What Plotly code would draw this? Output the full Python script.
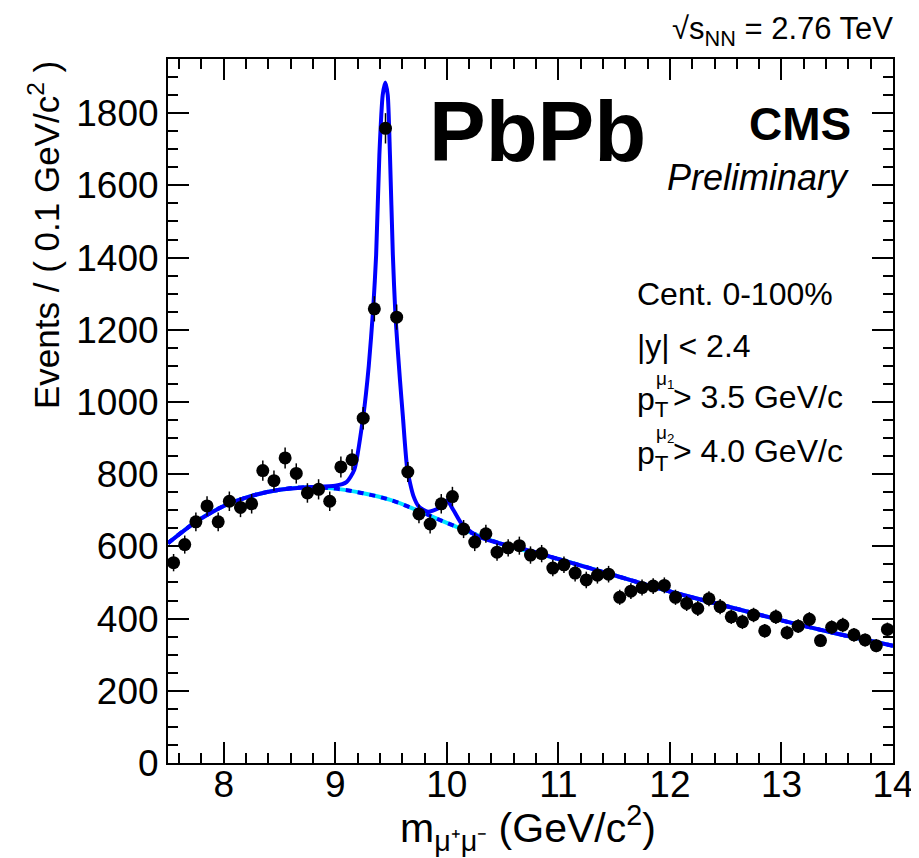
import plotly.graph_objects as go

# dimuon mass bins (0.1 GeV/c^2), PbPb upsilon region
mass = [7.55, 7.65, 7.75, 7.85, 7.95, 8.05, 8.15, 8.25, 8.35, 8.45,
        8.55, 8.65, 8.75, 8.85, 8.95, 9.05, 9.15, 9.25, 9.35, 9.45,
        9.55, 9.65, 9.75, 9.85, 9.95, 10.05, 10.15, 10.25, 10.35, 10.45,
        10.55, 10.65, 10.75, 10.85, 10.95, 11.05, 11.15, 11.25, 11.35, 11.45,
        11.55, 11.65, 11.75, 11.85, 11.95, 12.05, 12.15, 12.25, 12.35, 12.45,
        12.55, 12.65, 12.75, 12.85, 12.95, 13.05, 13.15, 13.25, 13.35, 13.45,
        13.55, 13.65, 13.75, 13.85, 13.95]
events = [555, 605, 668, 712, 668, 725, 708, 718, 810, 782,
          845, 802, 748, 758, 725, 820, 840, 955, 1258, 1758,
          1235, 806, 690, 662, 718, 738, 648, 612, 635, 584,
          596, 602, 576, 580, 540, 549, 526, 507, 520, 523,
          459, 476, 486, 490, 492, 459, 442, 428, 455, 433,
          405, 391, 410, 366, 405, 361, 379, 398, 339, 376,
          382, 355, 341, 325, 370]
errors = [24, 25, 26, 27, 26, 27, 27, 27, 28, 28,
          29, 28, 27, 28, 27, 29, 29, 31, 35, 42,
          35, 28, 26, 26, 27, 27, 25, 25, 25, 24,
          24, 25, 24, 24, 23, 23, 23, 23, 23, 23,
          21, 22, 22, 22, 22, 21, 21, 21, 21, 21,
          20, 20, 20, 19, 20, 19, 19, 20, 18, 19,
          20, 19, 18, 18, 19]

# total fit curve
fit_x = [7.5, 7.75, 8.0, 8.25, 8.5, 8.75, 9.0, 9.1, 9.17, 9.25,
         9.30, 9.34, 9.366, 9.395, 9.425, 9.448, 9.47, 9.49, 9.516, 9.54,
         9.58, 9.606, 9.646, 9.70, 9.75, 9.83, 9.92, 10.0, 10.06, 10.13,
         10.25, 10.43, 10.75, 11.0, 11.5, 12.0, 12.5, 13.0, 13.5, 14.0]
fit_y = [609, 668, 712, 740, 757, 764, 768, 778, 812, 959,
         1100, 1260, 1407, 1684, 1850, 1885, 1850, 1684, 1407, 1234,
         1060, 959, 812, 740, 710, 696, 705, 727, 700, 664,
         632, 612, 588, 565, 520, 475, 435, 395, 358, 325]

# background component
bkg_x = [7.5, 7.75, 8.0, 8.25, 8.5, 8.75, 9.0, 9.25, 9.5, 9.75,
         10.0, 10.25, 10.5, 11.0, 11.5, 12.0, 12.5, 13.0, 13.5, 14.0]
bkg_y = [609, 668, 712, 740, 757, 764, 760, 747, 728, 698,
         665, 634, 606, 565, 520, 475, 435, 395, 358, 325]

FONT = "Liberation Sans"
L, R, T, B = 168, 893, 59, 763
PAGE = 8  # default body margin of the html page


def px(x):
    return (x - L) / (R - L)


def py(y):
    return (B - y) / (B - T)


fig = go.Figure()
fig.add_trace(go.Scatter(x=bkg_x, y=bkg_y, mode="lines", line_shape="spline",
                         line=dict(color="#00e5ff", width=4)))
fig.add_trace(go.Scatter(x=bkg_x, y=bkg_y, mode="lines", line_shape="spline",
                         line=dict(color="#0000ff", width=4, dash="6px,6px")))
fig.add_trace(go.Scatter(x=fit_x, y=fit_y, mode="lines",
                         line=dict(color="#0000ff", width=4, shape="spline", smoothing=0.6)))
fig.add_trace(go.Scatter(x=mass, y=events, mode="markers",
                         marker=dict(color="black", size=13),
                         error_y=dict(type="data", array=errors, color="black",
                                      thickness=1.5, width=0)))

ann = []


def text(x, y, s, size, xanchor="left", bold=False, italic=False):
    ann.append(dict(x=px(x), y=py(y), xref="paper", yref="paper", text=s,
                    showarrow=False, xanchor=xanchor, yanchor="middle",
                    font=dict(family=FONT, size=size, color="black",
                              weight="bold" if bold else "normal",
                              style="italic" if italic else "normal")))


text(427, 132, "PbPb", 85, bold=True)
text(853, 124, "CMS", 46, xanchor="right", bold=True)
text(851, 177, "Preliminary", 36, xanchor="right", italic=True)
text(895, 31, "√s<sub>NN</sub> = 2.76 TeV", 31, xanchor="right")

text(635, 294, "Cent. 0-100%", 32)
text(635, 346, "|y| < 2.4", 32)
for yy, idx, cut in [(397, "1", "3.5"), (451, "2", "4.0")]:
    text(635, yy + 4, "p<sub>T</sub>", 32)
    text(654, yy - 17, "μ<sub>" + idx + "</sub>", 19)
    text(671, yy, "> " + cut + " GeV/c", 32)

text(528, 828, "m<sub>μ⁺μ⁻</sub> (GeV/c<sup>2</sup>)", 41, xanchor="center")
ann.append(dict(x=px(44), y=1.0, xref="paper", yref="paper",
                text="Events / ( 0.1 GeV/c<sup>2</sup> )", textangle=-90,
                showarrow=False, xanchor="center", yanchor="top",
                font=dict(family=FONT, size=35, color="black")))

W, H = 919 - PAGE, 858 - PAGE
fig.update_layout(
    width=W, height=H,
    margin=dict(l=L - PAGE, r=W - (R - PAGE), t=T - PAGE, b=H - (B - PAGE), autoexpand=False),
    paper_bgcolor="white", plot_bgcolor="white",
    showlegend=False, annotations=ann,
    font=dict(family=FONT, color="black"),
)
fig.update_xaxes(range=[7.5, 14], tickvals=[8, 9, 10, 11, 12, 13, 14],
                 ticks="inside", ticklen=21, tickwidth=1.5, tickcolor="black",
                 minor=dict(dtick=0.2, ticks="inside", ticklen=10, tickcolor="black", tickwidth=1.5),
                 showline=True, linecolor="black", linewidth=2, mirror="allticks",
                 showgrid=False, zeroline=False, automargin=False,
                 ticklabelstandoff=-12,
                 tickfont=dict(family=FONT, size=37, color="black"))
fig.update_yaxes(range=[0, 1950], tickvals=list(range(0, 2000, 200)),
                 ticks="inside", ticklen=21, tickwidth=1.5, tickcolor="black",
                 minor=dict(dtick=50, ticks="inside", ticklen=10, tickcolor="black", tickwidth=1.5),
                 showline=True, linecolor="black", linewidth=2, mirror="allticks",
                 showgrid=False, zeroline=False, automargin=False,
                 tickfont=dict(family=FONT, size=37, color="black"))

fig.write_html("out.html")
